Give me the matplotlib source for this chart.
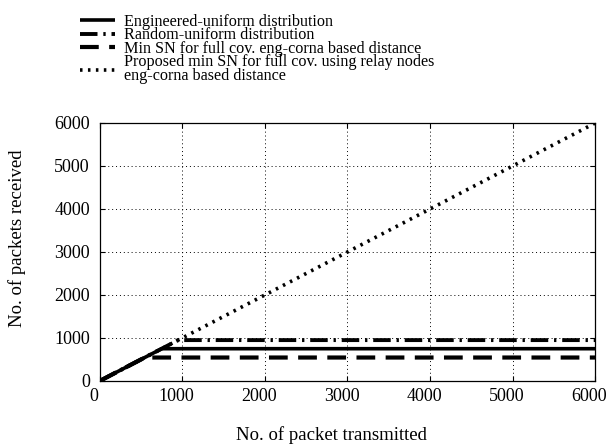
import matplotlib
matplotlib.use("Agg")
import matplotlib.pyplot as plt
from matplotlib.transforms import ScaledTranslation

# data
eng_x = [0, 750, 6000]
eng_y = [0, 750, 750]
rand_x = [0, 950, 6000]
rand_y = [0, 950, 950]
min_x = [0, 545, 6000]
min_y = [0, 545, 545]
prop_x = [0, 6000]
prop_y = [0, 6000]
labels = ["Engineered-uniform distribution",
          "Random-uniform distribution",
          "Min SN for full cov. eng-corna based distance",
          "Proposed min SN for full cov. using relay nodes\neng-corna based distance"]
xticks = [0, 1000, 2000, 3000, 4000, 5000, 6000]
yticks = [0, 1000, 2000, 3000, 4000, 5000, 6000]

plt.rcParams['font.family'] = ['Liberation Serif', 'DejaVu Serif']
fig = plt.figure(figsize=(6.08, 4.44), dpi=100)
ax = fig.add_axes([0.164, 0.142, 0.815, 0.581])

l1, = ax.plot(eng_x, eng_y, color='black', lw=2.6, solid_capstyle='butt')
l2, = ax.plot(rand_x, rand_y, color='black', lw=2.8, linestyle=(0, (4.5, 1.5, 0.6, 1.5)))
l3, = ax.plot(min_x, min_y, color='black', lw=3.0, linestyle=(0, (4.5, 2.5)))
l4, = ax.plot(prop_x, prop_y, color='black', lw=2.6, linestyle=(0, (0.7, 1.5)))

ax.set_xlim(0, 6000)
ax.set_ylim(0, 6000)
ax.set_xticks(xticks)
ax.set_yticks(yticks)
ax.tick_params(direction='in', top=True, right=True, labelsize=13)
ax.tick_params(axis='y', pad=7)
ax.tick_params(axis='x', pad=5)
for lab in ax.get_xticklabels():
    lab.set_transform(lab.get_transform() + ScaledTranslation(-0.06, 0, fig.dpi_scale_trans))
ax.grid(True, color='black', linestyle=(0, (1, 3)), linewidth=0.7)
for s in ax.spines.values():
    s.set_linewidth(0.9)

ax.set_xlabel("No. of packet transmitted", fontsize=13.5, labelpad=15)
ax.xaxis.label.set_x(0.467)
ax.set_ylabel("No. of packets received", fontsize=13.5, labelpad=20)
ax.yaxis.label.set_y(0.554)

leg = fig.legend([l1, l2, l3, l4], labels, loc='upper left', bbox_to_anchor=(0.115, 0.99),
                 frameon=False, fontsize=11.6, handlelength=2.2, labelspacing=-0.17,
                 handletextpad=0.55, borderaxespad=0.2)
leg.get_texts()[3].set_linespacing(0.88)

fig.savefig("out.png", dpi=100)
